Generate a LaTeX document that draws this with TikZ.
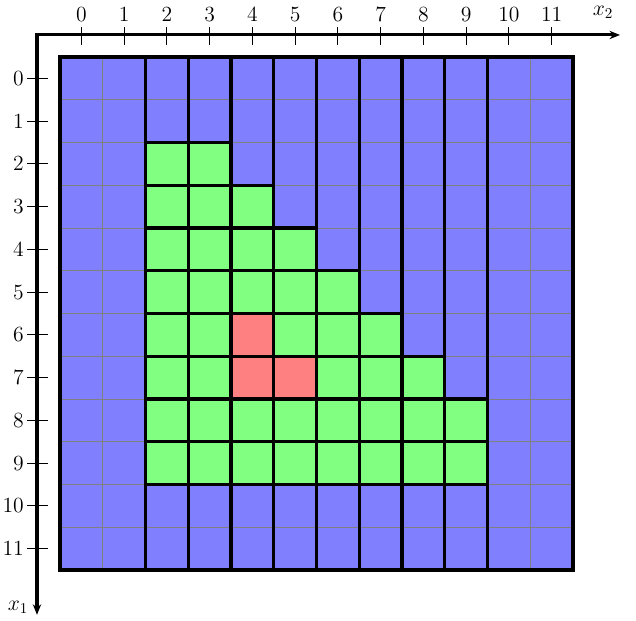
\documentclass[tikz,border=0pt]{standalone}
\usetikzlibrary{arrows.meta}
\begin{document}
\begin{tikzpicture}[
  blk/.style={line width=2.2pt},
  fineline/.style={gray, line width=0.5pt},
  tickmark/.style={line width=0.7pt},
  axisline/.style={line width=2pt},
  lbl/.style={font=\fontsize{13.8}{16}\selectfont, inner sep=0pt}
]
\useasboundingbox (-1.4035,1.3333) rectangle (13.474,-13.193);
% fills
\fill[blue!50] (0,0) rectangle (12,-12);
\foreach \i in {2,...,9}{
  \pgfmathtruncatemacro{\jmax}{min(9,\i+1)}
  \foreach \j in {2,...,\jmax}{
    \fill[green!50] (\j,-\i) rectangle (\j+1,-\i-1);
  }
}
\fill[red!50] (4,-6) rectangle (5,-8);
\fill[red!50] (5,-7) rectangle (6,-8);
% thin grid
\draw[fineline] (0,0) grid (12,-12);
% blocks
\draw[blk] (0,0) rectangle (2,-12);
\draw[blk] (10,0) rectangle (12,-12);
\foreach \j in {2,...,9}{
  \pgfmathtruncatemacro{\tend}{max(2,\j-1)}
  \draw[blk] (\j,0) rectangle (\j+1,-\tend);
  \draw[blk] (\j,-10) rectangle (\j+1,-12);
}
\foreach \i in {2,...,9}{
  \pgfmathtruncatemacro{\jmax}{min(9,\i+1)}
  \foreach \j in {2,...,\jmax}{
    \draw[blk] (\j,-\i) rectangle (\j+1,-\i-1);
  }
}
\draw[blk] (4,-6) rectangle (5,-8);
\draw[blk] (5,-7) rectangle (6,-8);
\draw[blk] (0,0) rectangle (12,-12);
% axes
\coordinate (corner) at (-0.538,0.515);
\coordinate (xend) at (13.1,0.515);
\coordinate (yend) at (-0.538,-13.05);
\draw[axisline, {Stealth[length=7pt,width=5.5pt]}-{Stealth[length=7pt,width=5.5pt]}] (xend) -- (corner) -- (yend);
\foreach \k in {0,...,11}{
  \draw[tickmark] (\k+0.5,0.70) -- (\k+0.5,0.28);
  \node[lbl] (xl\k) at (\k+0.5,1.0) {$\k$};
  \draw[tickmark] (-0.77,-\k-0.5) -- (-0.28,-\k-0.5);
  \node[lbl, anchor=east] (yl\k) at (-0.84,-\k-0.5) {$\k$};
}
\node[lbl] (x2lab) at (12.70,1.05) {$x_2$};
\node[lbl] (x1lab) at (-0.98,-12.87) {$x_1$};
\end{tikzpicture}
\end{document}
